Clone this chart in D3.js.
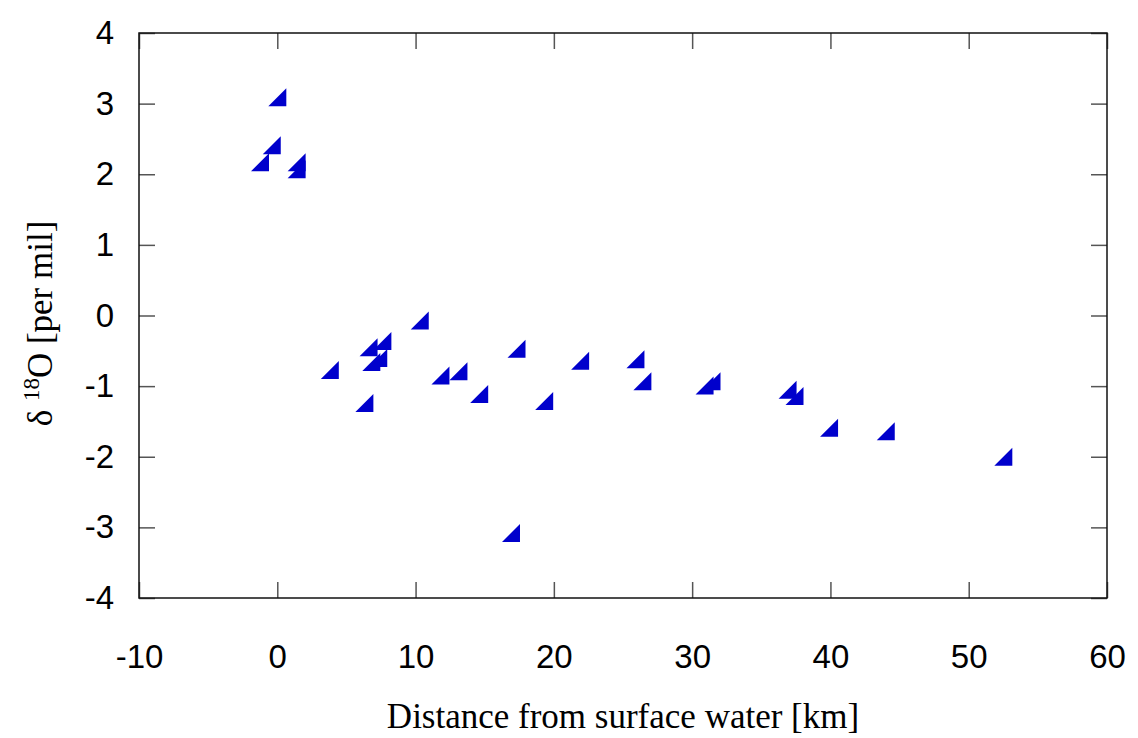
<!DOCTYPE html>
<html>
<head>
<meta charset="utf-8">
<script src="https://cdn.jsdelivr.net/npm/d3@7"></script>
<style>
  body { margin: 0; background: #fff; }
  .tick text { font-family: "Liberation Sans", Arial, sans-serif; font-size: 33px; fill: #000; }
  .title { font-family: "Liberation Serif", "Times New Roman", serif; font-size: 35px; fill: #000; }
</style>
</head>
<body>
<div id="chart"></div>
<script>
    'use strict';

    // distance from surface water [km]
    var distance = [0.0, -0.4, -1.25, 1.4, 1.4, 10.3, 6.6, 7.6, 7.3, 6.8, 3.8, 6.3, 11.8, 13.1,
        14.6, 17.3, 21.9, 25.9, 26.4, 19.3, 16.9, 30.9, 31.4, 36.9, 37.4, 39.9, 44.0, 52.5];
    // delta 18O [per mil]
    var delta18O = [3.09, 2.41, 2.17, 2.17, 2.07, -0.07, -0.45, -0.36, -0.60, -0.66, -0.77, -1.24, -0.85, -0.79,
        -1.11, -0.47, -0.64, -0.62, -0.93, -1.21, -3.08, -0.99, -0.93, -1.05, -1.14, -1.59, -1.64, -2.00];

    var xTicks = [-10, 0, 10, 20, 30, 40, 50, 60];
    var yTicks = [-4, -3, -2, -1, 0, 1, 2, 3, 4];

    var stage = { width: 1138, height: 738 };
    var margin = { left: 139, right: 31, top: 33, bottom: 140 };

    var points = distance.map(function(d, i) {
        return { x: d, y: delta18O[i] };
    });

    var svg = d3.select('#chart')
        .append('svg')
        .attr('width', stage.width)
        .attr('height', stage.height);

    var x = d3.scaleLinear().domain([-10, 60]).range([margin.left, stage.width - margin.right]);
    var y = d3.scaleLinear().domain([-4, 4]).range([stage.height - margin.bottom, margin.top]);

    var tickLen = 16;
    // plain hyphen for negatives, like the original
    var fmt = function(d) { return String(d); };

    // ticks on all four sides, pointing inward
    var drawAxis = function(axis, transform, labels) {
        var g = svg.append('g').attr('transform', transform).call(axis);
        g.select('.domain').remove();
        g.selectAll('.tick line').attr('stroke', '#555').attr('stroke-width', 1.5);
        if (!labels) g.selectAll('.tick text').remove();
        return g;
    };

    drawAxis(d3.axisBottom(x).tickValues(xTicks).tickSize(-tickLen).tickPadding(tickLen + 31).tickFormat(fmt),
        'translate(0,' + y(-4) + ')', true);
    drawAxis(d3.axisTop(x).tickValues(xTicks).tickSize(-tickLen),
        'translate(0,' + y(4) + ')', false);
    drawAxis(d3.axisLeft(y).tickValues(yTicks).tickSize(-tickLen).tickPadding(tickLen + 9).tickFormat(fmt),
        'translate(' + x(-10) + ',0)', true);
    drawAxis(d3.axisRight(y).tickValues(yTicks).tickSize(-tickLen),
        'translate(' + x(60) + ',0)', false);

    svg.selectAll('.tick text').attr('font-family', null).attr('font-size', null);

    // frame
    svg.append('rect')
        .attr('x', x(-10))
        .attr('y', y(4))
        .attr('width', x(60) - x(-10))
        .attr('height', y(-4) - y(4))
        .attr('fill', 'none')
        .attr('stroke', '#111')
        .attr('stroke-width', 1.5);

    // right-triangle markers
    var half = 9;
    svg.append('g')
        .selectAll('path')
        .data(points).enter()
        .append('path')
        .attr('d', function(d) {
            var cx = x(d.x), cy = y(d.y);
            return 'M' + (cx - half) + ',' + (cy + half) +
                'L' + (cx + half) + ',' + (cy + half) +
                'L' + (cx + half) + ',' + (cy - half) + 'Z';
        })
        .attr('fill', '#0000cc');

    // axis titles
    svg.append('text')
        .attr('class', 'title')
        .attr('x', (x(-10) + x(60)) / 2)
        .attr('y', 728)
        .attr('text-anchor', 'middle')
        .text('Distance from surface water [km]');

    var yt = svg.append('text')
        .attr('class', 'title')
        .attr('transform', 'translate(52,' + (y(0) + 8) + ') rotate(-90)')
        .attr('text-anchor', 'middle');
    yt.append('tspan').text('\u03b4 ');
    yt.append('tspan').attr('font-size', '23px').attr('dy', -13).text('18');
    yt.append('tspan').attr('dy', 13).text('O [per mil]');
</script>
</body>
</html>
